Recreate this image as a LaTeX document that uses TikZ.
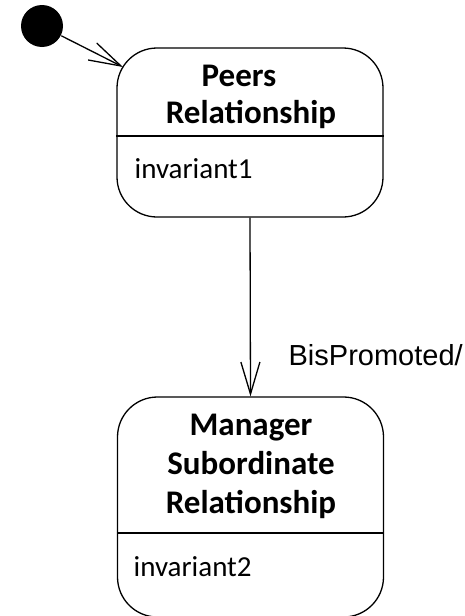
\documentclass[tikz,border=0pt]{standalone}
\usepackage{fontspec}
\setmainfont{Carlito}
\newfontfamily\labelfont{Liberation Sans}
\usetikzlibrary{arrows.meta}
\begin{document}
\begin{tikzpicture}[x=1pt,y=-1pt,
  line width=1.3pt,
  statebox/.style={draw, rounded corners=40pt, minimum width=266pt, inner sep=0pt},
  title/.style={font=\fontsize{33}{39}\selectfont\bfseries, inner sep=0pt, anchor=base},
  invtext/.style={font=\fontsize{29}{35}\selectfont, inner sep=0pt, anchor=base west},
  trans/.style={-{Straight Barb[length=32pt,width=19pt,line width=1.3pt]}},
  initdot/.style={circle, fill=black, minimum size=42pt, inner sep=0pt}]
\useasboundingbox (0,0) rectangle (465,616);
\begin{scope}
\clip (0,0) rectangle (465,616);

% initial pseudo-state
\node[initdot] (init) at (42,26) {};

% first state
\node[statebox, minimum height=169pt] (s1) at (250,132.5) {};
\draw (s1.west |- 0,136) -- (s1.east |- 0,136);
\node[title] (s1t1) at (239,86) {Peers};
\node[title] (s1t2) at (251,123) {Relationship};
\node[invtext] (inv1) at (134,178) {invariant1};

% second state
\node[statebox, minimum height=220pt] (s2) at (250.5,507) {};
\draw (s2.west |- 0,533) -- (s2.east |- 0,533);
\node[title, align=center] (s2t) at (251,513)
  {Manager\\Subordinate\\Relationship};
\node[invtext] (inv2) at (133,576) {invariant2};

% transitions
\coordinate (s1in) at (123,67);
\draw[trans] (init) -- (s1in);
\draw[trans] (s1.south) -- (s2.north);
\node[font=\labelfont\fontsize{29}{33}\selectfont, inner sep=0pt, anchor=base west]
  (lbl) at (288,365) {BisPromoted/};
\end{scope}
\end{tikzpicture}
\end{document}
